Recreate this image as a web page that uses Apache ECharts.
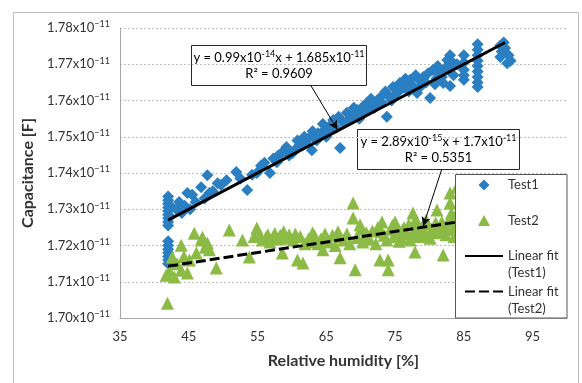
<!DOCTYPE html>
<html>
<head>
  <meta charset="utf-8">
  <title>Capacitance vs relative humidity</title>
  <script src="https://cdn.jsdelivr.net/npm/echarts@6/dist/echarts.min.js"></script>
  <style>
    html, body { margin: 0; padding: 0; background: #fff; }
    #chart { width: 582px; height: 383px; }
  </style>
</head>
<body>
  <div id="chart"></div>
  <script>
    // capacitance values are in units of 1e-11 F
    const test1Points = [
      [42, 1.7255], [42, 1.7265], [42, 1.7275], [42, 1.7285], [42, 1.7295], [42, 1.7305],
      [42, 1.7315], [42, 1.7325], [42, 1.7335], [42.3, 1.7280], [42.3, 1.7310],
      [42, 1.7150], [42, 1.7160], [42, 1.7170], [42, 1.7180], [42, 1.7190], [42, 1.7200], [42, 1.7212],
      [43.2, 1.7300], [43.6, 1.7320], [44.0, 1.7290], [44.4, 1.7310], [44.8, 1.7345], [45.2, 1.7300],
      [45.5, 1.7340], [46.0, 1.7320], [46.8, 1.7361], [47.3, 1.7330], [47.7, 1.7394], [48.0, 1.7345],
      [48.5, 1.7350], [49.2, 1.7372], [49.7, 1.7367], [50.5, 1.7380], [51.9, 1.7403], [52.5, 1.7385],
      [53.5, 1.7353], [54.2, 1.7395], [54.9, 1.7400], [55.5, 1.7420], [56.0, 1.7428], [56.8, 1.7400],
      [57.3, 1.7440], [57.8, 1.7430], [58.0, 1.7448], [58.5, 1.7455], [58.8, 1.7460], [59.2, 1.7472],
      [59.6, 1.7448], [60.1, 1.7455], [60.5, 1.7465], [60.8, 1.7490], [61.1, 1.7477], [61.5, 1.7490],
      [61.8, 1.7500], [62.0, 1.7485], [62.4, 1.7495], [62.9, 1.7463], [63.0, 1.7515], [63.3, 1.7500],
      [63.6, 1.7490], [63.8, 1.7510], [64.2, 1.7505], [64.5, 1.7535], [64.8, 1.7520], [65.0, 1.7500],
      [65.2, 1.7515], [65.5, 1.7530], [65.8, 1.7520], [66.0, 1.7546], [66.4, 1.7525], [66.8, 1.7555],
      [67.0, 1.7469], [67.4, 1.7540], [67.8, 1.7540], [68.0, 1.7566], [68.4, 1.7550], [68.9, 1.7560],
      [69.0, 1.7580], [69.5, 1.7574], [69.8, 1.7550], [70.0, 1.7560], [70.4, 1.7585], [70.6, 1.7570],
      [70.9, 1.7593], [71.3, 1.7575], [71.5, 1.7605], [71.8, 1.7595], [72.0, 1.7580], [72.4, 1.7601],
      [72.8, 1.7590], [73.0, 1.7595], [73.2, 1.7615], [73.6, 1.7625], [73.8, 1.7555], [74.2, 1.7610],
      [74.5, 1.7600], [74.7, 1.7637], [75.2, 1.7620], [75.5, 1.7625], [75.7, 1.7648], [76.2, 1.7635],
      [76.5, 1.7660], [76.8, 1.7645], [77.0, 1.7625], [77.2, 1.7657], [77.6, 1.7640], [78.0, 1.7670],
      [78.2, 1.7621], [78.6, 1.7655], [78.8, 1.7640], [79.1, 1.7665], [79.5, 1.7650], [79.8, 1.7675],
      [80.1, 1.7607], [80.5, 1.7684], [80.8, 1.7645], [81.0, 1.7660], [81.2, 1.7695], [81.5, 1.7675],
      [81.8, 1.7665], [82.0, 1.7648], [82.3, 1.7690], [82.6, 1.7712], [82.8, 1.7685], [83.0, 1.7725],
      [83.0, 1.7640], [83.5, 1.7703], [83.5, 1.7670], [84.0, 1.7700],
      [85, 1.7725], [85, 1.7705], [85, 1.7685], [85, 1.7670], [85, 1.7657],
      [87, 1.7755], [87, 1.7740], [87, 1.7725], [87, 1.7710], [87, 1.7695], [87, 1.7680],
      [87, 1.7665], [87, 1.7650], [87, 1.7637],
      [90.3, 1.7752], [90.5, 1.7735], [90.3, 1.7720], [91.0, 1.7745], [91.5, 1.7725],
      [91.8, 1.7710], [91.3, 1.7703], [90.8, 1.7760]
    ];

    const test2Points = [
      [41.7, 1.7118], [41.9, 1.7041], [42.2, 1.7130], [42.6, 1.7168], [42.9, 1.7113], [43.3, 1.7150],
      [43.9, 1.7201], [43.9, 1.7132], [44.3, 1.7170], [44.8, 1.7124], [45.1, 1.7160], [45.8, 1.7234],
      [46.1, 1.7179], [46.8, 1.7215], [47.0, 1.7223], [47.4, 1.7195], [47.7, 1.7207], [48.0, 1.7188],
      [49.0, 1.7138], [50.9, 1.7243], [52.8, 1.7215], [53.8, 1.7168], [54.5, 1.7225], [54.9, 1.7248],
      [55.3, 1.7228], [55.7, 1.7215], [56.2, 1.7222], [56.5, 1.7230], [56.8, 1.7210], [57.3, 1.7225],
      [57.5, 1.7233], [57.9, 1.7218], [58.3, 1.7228], [58.6, 1.7179], [58.8, 1.7238], [59.1, 1.7220],
      [59.6, 1.7230], [60.2, 1.7215], [60.5, 1.7232], [60.8, 1.7160], [61.2, 1.7225], [61.6, 1.7152],
      [61.9, 1.7205], [62.4, 1.7218], [62.9, 1.7210], [63.0, 1.7235], [63.3, 1.7226], [63.8, 1.7205],
      [64.2, 1.7218], [64.5, 1.7188], [64.8, 1.7232], [65.0, 1.7222], [65.4, 1.7210], [65.9, 1.7228],
      [66.3, 1.7200], [66.7, 1.7238], [67.0, 1.7166], [67.0, 1.7225], [67.5, 1.7215], [68.0, 1.7232],
      [68.4, 1.7205], [68.9, 1.7317], [68.9, 1.7276], [69.2, 1.7133], [69.5, 1.7222], [69.9, 1.7257],
      [70.0, 1.7245], [70.3, 1.7210], [70.8, 1.7235], [71.0, 1.7228], [71.2, 1.7218], [71.7, 1.7240],
      [72.2, 1.7205], [72.5, 1.7250], [72.8, 1.7160], [73.0, 1.7238], [73.1, 1.7265], [73.4, 1.7228],
      [73.8, 1.7215], [74.0, 1.7160], [74.0, 1.7133], [74.4, 1.7245], [74.6, 1.7255], [74.8, 1.7225],
      [75.0, 1.7265], [75.4, 1.7238], [75.6, 1.7212], [75.9, 1.7220], [76.0, 1.7240], [76.3, 1.7250],
      [76.8, 1.7232], [77.0, 1.7258], [77.2, 1.7215], [77.5, 1.7232], [77.6, 1.7290], [77.9, 1.7182],
      [78.0, 1.7272], [78.2, 1.7240], [78.2, 1.7260], [78.5, 1.7225], [78.9, 1.7250], [79.0, 1.7228],
      [79.3, 1.7235], [79.5, 1.7270], [79.7, 1.7260], [80.1, 1.7220], [80.3, 1.7245], [80.5, 1.7245],
      [80.9, 1.7262], [81.0, 1.7235], [81.1, 1.7298], [81.5, 1.7240], [81.8, 1.7265], [82.0, 1.7174],
      [82.0, 1.7255], [82.4, 1.7230], [82.6, 1.7245], [82.8, 1.7268], [83.0, 1.7345], [83.0, 1.7317],
      [83.2, 1.7290], [83.4, 1.7275], [83.5, 1.7250], [83.6, 1.7225], [83.8, 1.7270], [84.0, 1.7230],
      [84.0, 1.7361], [84.2, 1.7255], [84.3, 1.7300]
    ];

    // trend line end points as drawn in the figure
    const fit1Points = [[42, 1.7270], [91, 1.7760]];
    const fit2Points = [[42, 1.7143], [91, 1.7285]];

    // callout arrows: [box corner, tip on the trend line]
    const arrow1 = [[62.7, 1.7643], [66.6, 1.7520]];
    const arrow2 = [[81.8, 1.7411], [79.1, 1.7254]];

    const FONT = 'Lato';
    const TEXT = '#333333';

    // legend markers: a small shape centred in a 38x11 box so it is not stretched
    const DIAMOND_ICON = 'path://M0,0M38,11M19,0L24.5,5.5L19,11L13.5,5.5Z';
    const TRIANGLE_ICON = 'path://M0,0M38,11M19,0L25,11L13,11Z';
    const HIDDEN_MARK = { color: 'rgba(0,0,0,0)', borderColor: 'rgba(0,0,0,0)', borderWidth: 0 };

    const chart = echarts.init(document.getElementById('chart'), null, { renderer: 'canvas' });

    function arrowLine(pts) {
      return {
        silent: true,
        animation: false,
        symbol: ['none', 'arrow'],
        symbolSize: [7, 9],
        label: { show: false },
        lineStyle: { color: '#000', width: 1, type: 'solid' },
        emphasis: { disabled: true },
        data: [[{ coord: pts[0] }, { coord: pts[1] }]]
      };
    }

    const supRich = {
      n: { fontFamily: FONT, fontSize: 13, color: TEXT, lineHeight: 16 },
      s: { fontFamily: FONT, fontSize: 9, color: TEXT, lineHeight: 9, verticalAlign: 'top' }
    };

    const option = {
      animation: false,
      backgroundColor: '#fff',
      grid: { left: 120, right: 15, top: 28, bottom: 65 },
      xAxis: {
        type: 'value',
        min: 35,
        max: 100,
        interval: 10,
        name: 'Relative humidity [%]',
        nameLocation: 'middle',
        nameGap: 35,
        nameTextStyle: { fontFamily: FONT, fontSize: 16, fontWeight: 'bold', color: TEXT },
        axisLine: { show: true, lineStyle: { color: '#a6a6a6', width: 1 } },
        axisTick: { show: false },
        splitLine: { show: false },
        axisLabel: {
          fontFamily: FONT, fontSize: 13, color: TEXT, margin: 12,
          showMaxLabel: false
        }
      },
      yAxis: {
        type: 'value',
        min: 1.70,
        max: 1.78,
        interval: 0.01,
        name: 'Capacitance [F]',
        nameLocation: 'middle',
        nameGap: 74,
        nameTextStyle: { fontFamily: FONT, fontSize: 16, fontWeight: 'bold', color: TEXT },
        axisLine: { show: true, lineStyle: { color: '#a6a6a6', width: 1 } },
        axisTick: { show: false },
        splitLine: { show: true, lineStyle: { color: '#bfbfbf', width: 1, type: [2, 2] } },
        axisLabel: {
          margin: 10,
          formatter: v => '{b|' + v.toFixed(2) + 'x10}{s|\u221211}',
          rich: {
            b: { fontFamily: FONT, fontSize: 13, color: TEXT, lineHeight: 16 },
            s: { fontFamily: FONT, fontSize: 9, color: TEXT, lineHeight: 9, verticalAlign: 'top' }
          }
        }
      },
      legend: {
        left: 464,
        top: 159.5,
        orient: 'vertical',
        padding: 0,
        itemGap: -15.5,
        itemWidth: 38,
        itemHeight: 11,
        z: 20,
        data: [
          { name: 'Test1', icon: DIAMOND_ICON },
          { name: 'Test2', icon: TRIANGLE_ICON },
          { name: 'Linear fit (Test1)', itemStyle: HIDDEN_MARK },
          { name: 'Linear fit (Test2)', itemStyle: HIDDEN_MARK }
        ],
        formatter: name => {
          const m = name.match(/^Linear fit (\(.*\))$/);
          return m ? '\u00a0\nLinear fit\n' + m[1] : '\u00a0\n' + name + '\n\u00a0';
        },
        textStyle: { fontFamily: FONT, fontSize: 13, lineHeight: 17, color: TEXT }
      },
      graphic: [
        {
          type: 'rect', z: 0, silent: true,
          shape: { x: 13.5, y: 12.5, width: 565, height: 390 },
          style: { fill: null, stroke: '#bfbfbf', lineWidth: 1 }
        },
        {
          type: 'rect', z: 15, silent: true,
          shape: { x: 455.5, y: 174.5, width: 111.5, height: 143.5 },
          style: { fill: '#fff', stroke: '#595959', lineWidth: 1 }
        },
        {
          type: 'group', z: 15, silent: true,
          children: [
            {
              type: 'rect',
              shape: { x: 191.5, y: 45.5, width: 175, height: 40 },
              style: { fill: '#fff', stroke: '#262626', lineWidth: 1 }
            },
            {
              type: 'text', x: 279, y: 65.5,
              style: {
                text: '{n|y = 0.99x10}{s|-14}{n|x + 1.685x10}{s|-11}\n{n|R\u00b2 = 0.9609}',
                rich: supRich, align: 'center', verticalAlign: 'middle'
              }
            },
            {
              type: 'rect',
              shape: { x: 357.5, y: 129.5, width: 162, height: 40 },
              style: { fill: '#fff', stroke: '#262626', lineWidth: 1 }
            },
            {
              type: 'text', x: 438.5, y: 149.5,
              style: {
                text: '{n|y = 2.89x10}{s|-15}{n|x + 1.7x10}{s|-11}\n{n|R\u00b2 = 0.5351}',
                rich: supRich, align: 'center', verticalAlign: 'middle'
              }
            }
          ]
        }
      ],
      series: [
        {
          name: 'Test1',
          type: 'scatter',
          symbol: 'diamond',
          symbolSize: 12,
          itemStyle: { color: '#2a7fc2', opacity: 1 },
          data: test1Points,
          z: 2
        },
        {
          name: 'Test2',
          type: 'scatter',
          symbol: 'triangle',
          symbolSize: 13,
          itemStyle: { color: '#8cbb45', opacity: 1 },
          data: test2Points,
          z: 2
        },
        {
          name: 'Linear fit (Test1)',
          type: 'line',
          symbol: 'none',
          lineStyle: { color: '#000', width: 3, type: 'solid' },
          itemStyle: { color: '#000' },
          data: fit1Points,
          markLine: arrowLine(arrow1),
          z: 3
        },
        {
          name: 'Linear fit (Test2)',
          type: 'line',
          symbol: 'none',
          lineStyle: { color: '#000', width: 3, type: [10, 4] },
          itemStyle: { color: '#000' },
          data: fit2Points,
          markLine: arrowLine(arrow2),
          z: 3
        }
      ]
    };

    chart.setOption(option);
  </script>
</body>
</html>
